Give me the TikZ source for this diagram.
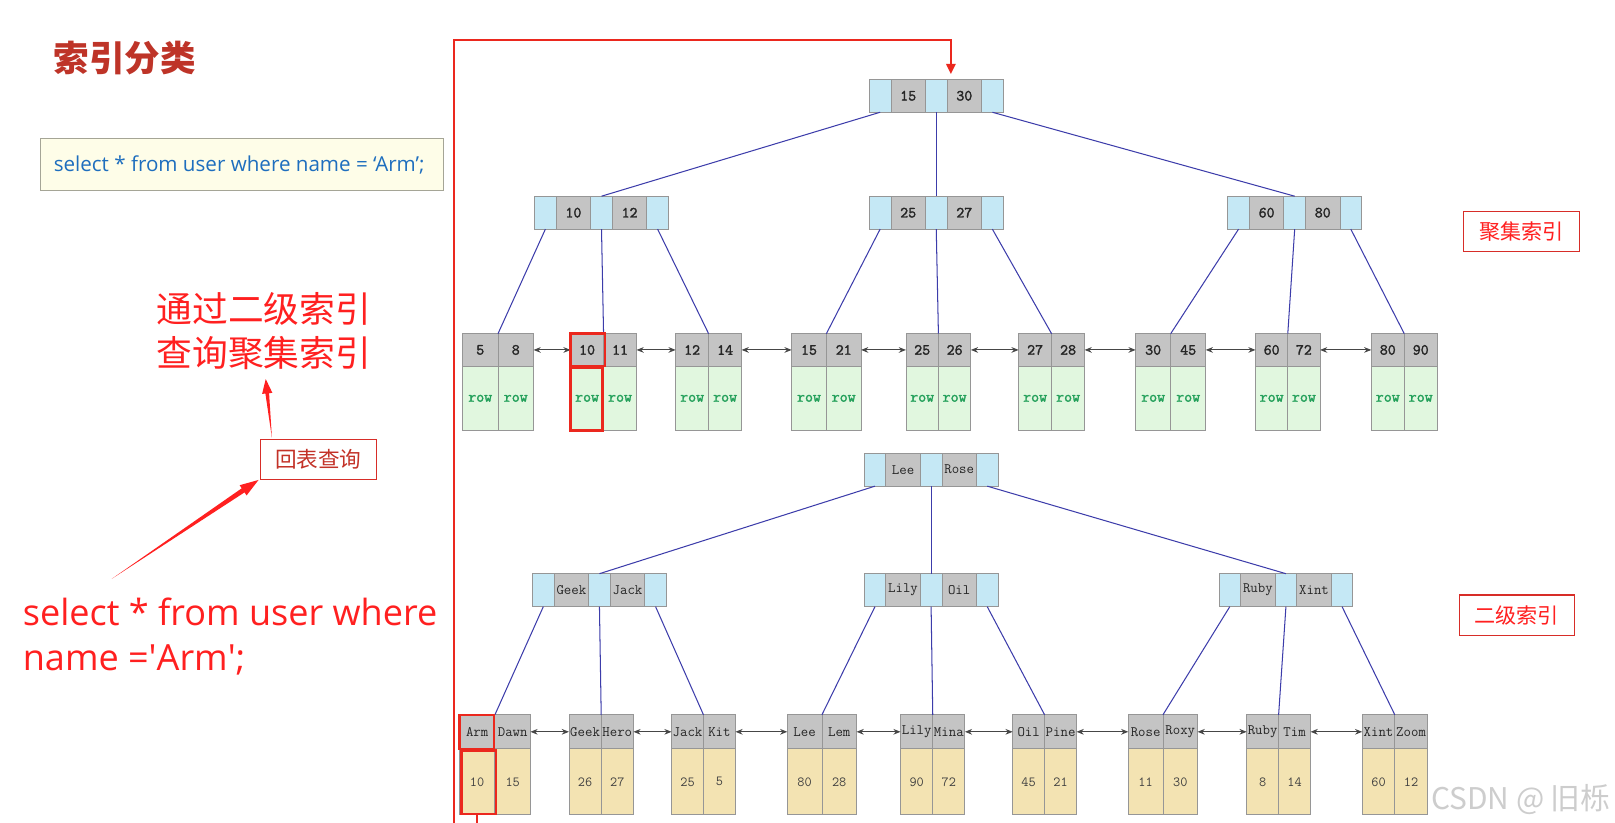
\documentclass[tikz,border=0pt]{standalone}
\usepackage{fontspec}
\usetikzlibrary{calc,arrows.meta}
\newfontfamily\cjk{Noto Sans CJK SC}
\newfontfamily\uif{Open Sans}
\newfontfamily\tbold[FakeBold=2]{Latin Modern Mono}
\newcommand{\fs}[1]{\fontsize{#1}{#1}\selectfont}
\definecolor{titlered}{RGB}{190,52,40}
\definecolor{annred}{RGB}{255,32,32}
\definecolor{boxred}{RGB}{215,45,40}
\definecolor{hbtext}{RGB}{195,50,40}
\definecolor{sqlfill}{RGB}{254,253,232}
\definecolor{sqlborder}{RGB}{165,165,150}
\definecolor{sqlblue}{RGB}{30,110,190}
\definecolor{cellblue}{RGB}{197,232,245}
\definecolor{cellgray}{RGB}{196,196,196}
\definecolor{cellborder}{RGB}{150,150,150}
\definecolor{rowgreen}{RGB}{225,247,223}
\definecolor{rowtext}{RGB}{35,160,90}
\definecolor{wheat}{RGB}{243,227,178}
\definecolor{treeblue}{RGB}{60,60,170}
\definecolor{arrgray}{RGB}{70,70,70}
\definecolor{wmgray}{RGB}{205,205,205}
\definecolor{hlred}{RGB}{235,40,30}

% internal B+ tree node: name, x, y, key1, key2, key style
\newcommand{\inode}[6]{%
  \node[bcell] (#1-b1) at (#2,#3) {};
  \node[kcell,#6] (#1-k1) at (#1-b1.north east) {#4};
  \node[bcell] (#1-b2) at (#1-k1.north east) {};
  \node[kcell,#6] (#1-k2) at (#1-b2.north east) {#5};
  \node[bcell] (#1-b3) at (#1-k2.north east) {};
}
% clustered leaf: name, x, cell width, key1, key2
\newcommand{\cleaf}[5]{%
  \node[chead, minimum width=#3pt] (#1-k1) at (#2,324) {#4};
  \node[chead, minimum width=#3pt] (#1-k2) at (#1-k1.north east) {#5};
  \node[crow, minimum width=#3pt] (#1-r1) at (#1-k1.south west) {row};
  \node[crow, minimum width=#3pt] (#1-r2) at (#1-k2.south west) {row};
}
% secondary leaf: name, x, cell width, key1, key2, val1, val2
\newcommand{\sleaf}[7]{%
  \node[shead, minimum width=#3pt] (#1-k1) at (#2,694) {#4};
  \node[shead, minimum width=#3pt] (#1-k2) at (#1-k1.north east) {#5};
  \node[srow, minimum width=#3pt] (#1-r1) at (#1-k1.south west) {#6};
  \node[srow, minimum width=#3pt] (#1-r2) at (#1-k2.south west) {#7};
}
% tapered annotation arrow: tail, tip, head length, shaft half width, head half width
\newcommand{\taparrow}[5]{%
  \coordinate (tb) at ($(#2)!#3!(#1)$);
  \fill[annred] (#1) -- ($(tb)!#4!90:(#2)$) -- ($(tb)!#5!90:(#2)$) -- (#2)
     -- ($(tb)!#5!-90:(#2)$) -- ($(tb)!#4!-90:(#2)$) -- cycle;
}

\begin{document}
\begin{tikzpicture}[x=1pt,y=-1pt,
  cell/.style={draw=cellborder, line width=0.8pt, inner sep=0pt, outer sep=0pt, anchor=north west},
  bcell/.style={cell, fill=cellblue, minimum width=21pt, minimum height=32pt},
  kcell/.style={cell, fill=cellgray, minimum width=33.5pt, minimum height=32pt},
  ckey/.style={font=\tbold\fs{15}, text=black!85},
  skey/.style={font=\ttfamily\fs{14}, text=black!85},
  chead/.style={cell, fill=cellgray, minimum height=31.5pt, font=\tbold\fs{15}, text=black!85},
  crow/.style={cell, fill=rowgreen, minimum height=62.5pt, font=\tbold\fs{15}, text=rowtext},
  shead/.style={cell, fill=cellgray, minimum height=33pt, font=\ttfamily\fs{14}, text=black!85},
  srow/.style={cell, fill=wheat, minimum height=64pt, font=\ttfamily\fs{13.5}, text=black!75},
  tline/.style={draw=treeblue, line width=1pt},
  larr/.style={draw=arrgray, line width=1pt, {Stealth[length=7pt,width=5.5pt]}-{Stealth[length=7pt,width=5.5pt]}},
  hl/.style={draw=hlred, line width=2.4pt},
  redline/.style={draw=hlred, line width=2pt, -{Triangle[length=10pt,width=9pt]}},
  lblbox/.style={draw=boxred, line width=1.2pt, inner sep=0pt, font=\cjk\fs{20.5}, text=annred},
]
\clip (0,0) rectangle (1568,799);
\fill[white] (0,0) rectangle (1568,799);

% ---- left side annotations
\node[anchor=west, inner sep=0pt, font=\cjk\bfseries\fs{34.5}, text=titlered] (title) at (52,56) {索引分类};
\node[draw=sqlborder, fill=sqlfill, line width=0.8pt, anchor=north west, minimum width=391pt, minimum height=50pt, inner sep=0pt] (sql) at (39,134) {};
\node[anchor=west, inner sep=0pt, font=\uif\fs{20}, text=sqlblue] (sqlt) at ($(sql.west)+(13,1)$) {select * from user where name = ‘Arm’;};

\node[anchor=west, inner sep=0pt, font=\cjk\fs{34.7}, text=annred] (cn1) at (152,300) {通过二级索引};
\node[anchor=west, inner sep=0pt, font=\cjk\fs{34.7}, text=annred] (cn2) at (152,343) {查询聚集索引};

\node[draw=boxred, line width=1.1pt, anchor=north west, minimum width=113pt, minimum height=39pt, inner sep=0pt, font=\cjk\fs{21}, text=hbtext] (hb) at (252,426) {回表查询};

\node[anchor=base west, inner sep=0pt, font=\uif\fs{35}, text=annred] (sel1) at (22,607) {select * from user where};
\node[anchor=base west, inner sep=0pt, font=\uif\fs{35}, text=annred] (sel2) at (22,651) {name =\textquotesingle Arm\textquotesingle;};

\coordinate (a1t) at (264,425);
\coordinate (a1h) at (258,368);
\taparrow{a1t}{a1h}{14pt}{1.8pt}{5pt}
\coordinate (a2t) at (108.5,562);
\coordinate (a2h) at (251,466);
\taparrow{a2t}{a2h}{18pt}{2.4pt}{6pt}

% ---- clustered index
\inode{cr}{844}{77}{15}{30}{ckey}
\inode{ca}{519}{190.5}{10}{12}{ckey}
\inode{cb}{844}{190.5}{25}{27}{ckey}
\inode{cc}{1192}{190.5}{60}{80}{ckey}

\cleaf{l1}{449}{34.5}{5}{8}
\cleaf{l2}{554}{32}{10}{11}
\cleaf{l3}{656}{32}{12}{14}
\cleaf{l4}{768.6}{33.7}{15}{21}
\cleaf{l5}{879.6}{31.5}{25}{26}
\cleaf{l6}{989}{32}{27}{28}
\cleaf{l7}{1102.6}{34}{30}{45}
\cleaf{l8}{1219}{31.3}{60}{72}
\cleaf{l9}{1331.4}{32}{80}{90}

\draw[tline] (cr-b1.south) -- (ca-b2.north);
\draw[tline] (cr-b2.south) -- (cb-b2.north);
\draw[tline] (cr-b3.south) -- (cc-b2.north);
\draw[tline] (ca-b1.south) -- (l1-k1.north east);
\draw[tline] (ca-b2.south) -- (l2-k1.north east);
\draw[tline] (ca-b3.south) -- (l3-k1.north east);
\draw[tline] (cb-b1.south) -- (l4-k1.north east);
\draw[tline] (cb-b2.south) -- (l5-k1.north east);
\draw[tline] (cb-b3.south) -- (l6-k1.north east);
\draw[tline] (cc-b1.south) -- (l7-k1.north east);
\draw[tline] (cc-b2.south) -- (l8-k1.north east);
\draw[tline] (cc-b3.south) -- (l9-k1.north east);

\foreach \a/\b in {l1/l2,l2/l3,l3/l4,l4/l5,l5/l6,l6/l7,l7/l8,l8/l9}
  \draw[larr] (\a-k2.east) -- (\b-k1.west);

% ---- secondary index
\inode{sr}{839}{440}{Lee}{Rose}{skey}
\inode{sa}{517}{557}{Geek}{Jack}{skey}
\inode{sb}{839}{557}{Lily}{Oil}{skey}
\inode{sc}{1183.5}{557}{Ruby}{Xint}{skey}

\sleaf{s1}{446}{34.5}{Arm}{Dawn}{10}{15}
\sleaf{s2}{552.4}{31.3}{Geek}{Hero}{26}{27}
\sleaf{s3}{652}{31}{Jack}{Kit}{25}{5}
\sleaf{s4}{764.4}{33.6}{Lee}{Lem}{80}{28}
\sleaf{s5}{874.4}{31.2}{Lily}{Mina}{90}{72}
\sleaf{s6}{983.2}{31}{Oil}{Pine}{45}{21}
\sleaf{s7}{1095.5}{33.6}{Rose}{Roxy}{11}{30}
\sleaf{s8}{1210.4}{31}{Ruby}{Tim}{8}{14}
\sleaf{s9}{1322.6}{31.6}{Xint}{Zoom}{60}{12}

\draw[tline] (sr-b1.south) -- (sa-b2.north);
\draw[tline] (sr-b2.south) -- (sb-b2.north);
\draw[tline] (sr-b3.south) -- (sc-b2.north);
\draw[tline] (sa-b1.south) -- (s1-k1.north east);
\draw[tline] (sa-b2.south) -- (s2-k1.north east);
\draw[tline] (sa-b3.south) -- (s3-k1.north east);
\draw[tline] (sb-b1.south) -- (s4-k1.north east);
\draw[tline] (sb-b2.south) -- (s5-k1.north east);
\draw[tline] (sb-b3.south) -- (s6-k1.north east);
\draw[tline] (sc-b1.south) -- (s7-k1.north east);
\draw[tline] (sc-b2.south) -- (s8-k1.north east);
\draw[tline] (sc-b3.south) -- (s9-k1.north east);

\foreach \a/\b in {s1/s2,s2/s3,s3/s4,s4/s5,s5/s6,s6/s7,s7/s8,s8/s9}
  \draw[larr] (\a-k2.east) -- (\b-k1.west);

% ---- labels
\node[lblbox, minimum width=112.6pt, minimum height=38.5pt] (lbl1) at (1477,224.8) {聚集索引};
\node[lblbox, minimum width=111.6pt, minimum height=39.5pt] (lbl2) at (1472.6,597.5) {二级索引};

% ---- highlights
\draw[hl] (l2-k1.north west) rectangle ($(l2-k1.south east)+(1.5,0)$);
\draw[hl] ($(l2-r1.north west)+(0,1.5)$) rectangle ($(l2-r1.south east)+(-1,0)$);
\draw[hl] (s1-k1.north west) rectangle ($(s1-k1.south east)+(-1,0)$);
\draw[hl] ($(s1-r1.north west)+(2,1.5)$) rectangle ($(s1-r1.south east)+(1,-0.5)$);

% ---- lookup path from secondary leaf to clustered root
\coordinate (bendtl) at (441,39);
\coordinate (rin) at ($(cr-k2.north west)+(3.7,0)$);
\draw[redline, shorten >=5pt] (s1-r1.south) -- ++(0,30) -| (bendtl) -| (rin);

% ---- watermark
\node[anchor=base east, inner sep=0pt, font=\cjk\fs{29}, text=wmgray] (wm) at (1564,786) {CSDN @ 旧栎};
\end{tikzpicture}
\end{document}
